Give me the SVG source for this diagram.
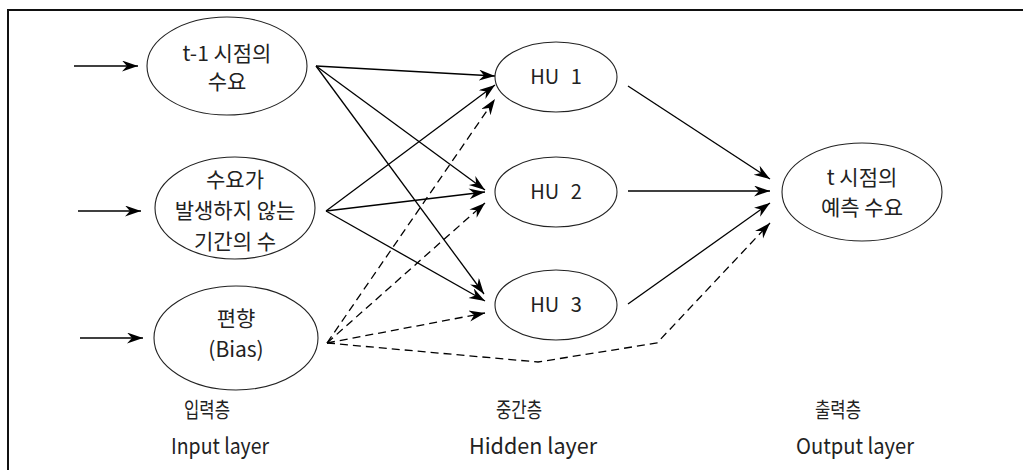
<svg xmlns="http://www.w3.org/2000/svg" width="1023" height="470" viewBox="0 0 1023 470">
<style>
.node ellipse{fill:#fff;stroke:#222;stroke-width:1.1}
text{font-family:"Noto Sans CJK KR","Noto Sans",sans-serif;font-size:21px;fill:#222;text-anchor:middle}
.hu{font-size:20px;word-spacing:7px}
.ko{font-size:21px}
.en{font-size:22px}
.c line,.c polyline{stroke:#000;stroke-width:1.3;fill:none}
.d{stroke-dasharray:8 5}
</style>
<defs>
<marker id="ah" markerWidth="18" markerHeight="12" refX="16" refY="5.5" orient="auto" markerUnits="userSpaceOnUse">
<path d="M0,0 L16,5.5 L0,11 L5,5.5 z" fill="#000"/>
</marker>
</defs>
<rect x="0" y="0" width="1023" height="470" fill="#fff"/>
<path d="M8,480 L8,10 L1030,10" fill="none" stroke="#111" stroke-width="2"/>

<g class="c">
<line x1="74" y1="66" x2="138" y2="66" marker-end="url(#ah)"/>
<line x1="78" y1="211" x2="141" y2="211" marker-end="url(#ah)"/>
<line x1="80" y1="338" x2="143" y2="338" marker-end="url(#ah)"/>
<line x1="316" y1="66" x2="495" y2="76" marker-end="url(#ah)"/>
<line x1="316" y1="66" x2="485" y2="190" marker-end="url(#ah)"/>
<line x1="316" y1="66" x2="484" y2="294" marker-end="url(#ah)"/>
<line x1="326" y1="211" x2="495" y2="85" marker-end="url(#ah)"/>
<line x1="326" y1="211" x2="485" y2="192" marker-end="url(#ah)"/>
<line x1="326" y1="211" x2="485" y2="301" marker-end="url(#ah)"/>
<line class="d" x1="327" y1="343" x2="495" y2="99" marker-end="url(#ah)"/>
<line class="d" x1="327" y1="343" x2="485" y2="203" marker-end="url(#ah)"/>
<line class="d" x1="327" y1="343" x2="485" y2="313" marker-end="url(#ah)"/>
<polyline class="d" points="327,343 538,362 657,343 770,223" marker-end="url(#ah)"/>
<line x1="628" y1="86" x2="770" y2="179" marker-end="url(#ah)"/>
<line x1="628" y1="191" x2="770" y2="191" marker-end="url(#ah)"/>
<line x1="628" y1="304" x2="770" y2="203" marker-end="url(#ah)"/>
</g>

<g id="in1" class="node"><ellipse cx="227" cy="66" rx="80" ry="49"/><text x="227" y="61">t-1 시점의</text><text x="227" y="89">수요</text></g>
<g id="in2" class="node"><ellipse cx="235" cy="208" rx="80" ry="51"/><text x="235" y="187">수요가</text><text x="235" y="218">발생하지 않는</text><text x="235" y="249">기간의 수</text></g>
<g id="in3" class="node"><ellipse cx="236" cy="338" rx="82" ry="52"/><text x="236" y="326">편향</text><text x="236" y="357">(Bias)</text></g>
<g id="hu1" class="node"><ellipse cx="556" cy="77" rx="61" ry="35"/><text class="hu" x="556" y="84">HU 1</text></g>
<g id="hu2" class="node"><ellipse cx="556" cy="192" rx="61" ry="35"/><text class="hu" x="556" y="199">HU 2</text></g>
<g id="hu3" class="node"><ellipse cx="556" cy="305" rx="61" ry="35"/><text class="hu" x="556" y="312">HU 3</text></g>
<g id="out" class="node"><ellipse cx="862" cy="192" rx="80" ry="49"/><text x="862" y="185">t 시점의</text><text x="862" y="215">예측 수요</text></g>

<g id="labels">
<text class="ko" x="207" y="417" textLength="46" lengthAdjust="spacingAndGlyphs">입력층</text><text class="en" x="220" y="454" textLength="98" lengthAdjust="spacingAndGlyphs">Input layer</text>
<text class="ko" x="519" y="417" textLength="46" lengthAdjust="spacingAndGlyphs">중간층</text><text class="en" x="533" y="454" textLength="128" lengthAdjust="spacingAndGlyphs">Hidden layer</text>
<text class="ko" x="838" y="417" textLength="46" lengthAdjust="spacingAndGlyphs">출력층</text><text class="en" x="855" y="454" textLength="118" lengthAdjust="spacingAndGlyphs">Output layer</text>
</g>
</svg>
